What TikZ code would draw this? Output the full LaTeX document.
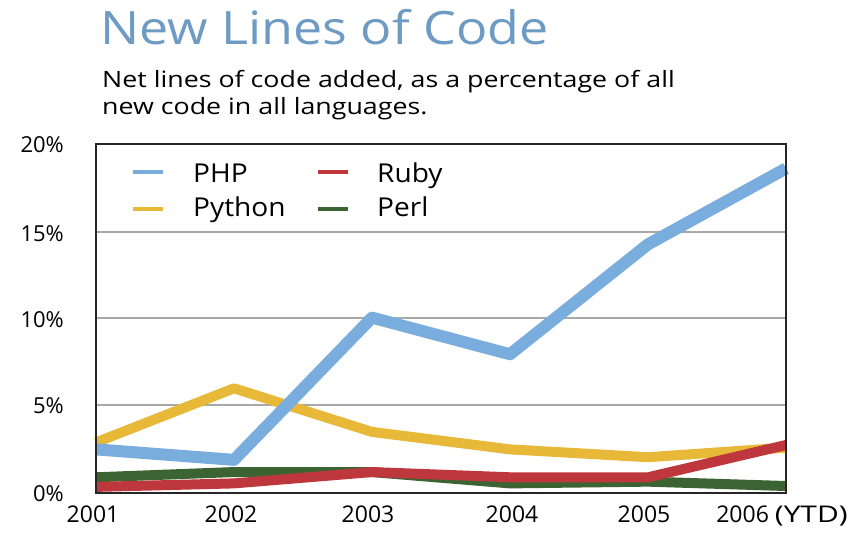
\documentclass[tikz,border=0pt]{standalone}
\usepackage{fontspec}
\setmainfont{Open Sans}
\newfontfamily\titlefont{Open Sans}[FakeStretch=1.13]
\newfontfamily\subfont{Open Sans}[FakeStretch=1.19]
\newfontfamily\legfont{Open Sans}[FakeStretch=1.08]
\newfontfamily\ytdfont{Open Sans}[FakeStretch=1.3]
\definecolor{phpc}{HTML}{78ADDE}
\definecolor{pyc}{HTML}{E8B838}
\definecolor{rbc}{HTML}{BE373C}
\definecolor{plc}{HTML}{3C6432}
\definecolor{titlec}{HTML}{6E9BC3}
\definecolor{gridc}{HTML}{A8A8A8}
\begin{document}
\begin{tikzpicture}[x=1pt,y=-1pt,
  series/.style={line width=10pt,line join=round,line cap=butt},
  legline/.style={line width=4pt},
  legtext/.style={anchor=base west,inner sep=0pt,font=\legfont\fontsize{26}{30}\selectfont},
  ylab/.style={anchor=base east,inner sep=0pt,font=\fontsize{22}{26}\selectfont},
  xlab/.style={anchor=base,inner sep=0pt,font=\fontsize{23}{27}\selectfont},
  gridline/.style={gridc,line width=1.2pt}]
\useasboundingbox[fill=white] (0,0) rectangle (855,537);
% title
\node[anchor=base west,inner sep=0pt,text=titlec,font=\titlefont\fontsize{46}{50}\selectfont] (title) at (100,45) {New Lines of Code};
\node[anchor=base west,inner sep=0pt,font=\subfont\fontsize{22.5}{26}\selectfont] (sub1) at (102,88) {Net lines of code added, as a percentage of all};
\node[anchor=base west,inner sep=0pt,font=\subfont\fontsize{22.5}{26}\selectfont] (sub2) at (102,115) {new code in all languages.};
% frame corners
\coordinate (bl) at (96,493);
\coordinate (tr) at (786,144);
% grid
\draw[gridline] (96,232) -- (786,232);
\draw[gridline] (96,318) -- (786,318);
\draw[gridline] (96,405) -- (786,405);
% y labels
\node[ylab] (y20) at (64,153) {20\%};
\node[ylab] (y15) at (64,242) {15\%};
\node[ylab] (y10) at (64,328) {10\%};
\node[ylab] (y5) at (64,414) {5\%};
\node[ylab] (y0) at (64,502) {0\%};
% x labels
\node[xlab] (x1) at (93,522) {2001};
\node[xlab] (x2) at (231,522) {2002};
\node[xlab] (x3) at (368,522) {2003};
\node[xlab] (x4) at (512,522) {2004};
\node[xlab] (x5) at (644,522) {2005};
\node[xlab] (x6) at (782,522) {2006 {\ytdfont(YTD)}};
% data
\begin{scope}[xshift=96pt,yshift=-493pt,x=138pt,y=17.45pt]
\draw[series,plc] (0,0.9) -- (1,1.2) -- (2,1.2) -- (3,0.55) -- (4,0.65) -- (5,0.4);
\draw[series,pyc] (0,2.9) -- (1,6.0) -- (2,3.5) -- (3,2.5) -- (4,2.05) -- (5,2.6);
\draw[series,phpc,line width=12pt] (0,2.5) -- (1,1.9) -- (2,10.05) -- (3,7.95) -- (4,14.25) -- (5,18.6);
\draw[series,rbc] (0,0.35) -- (1,0.55) -- (2,1.2) -- (3,0.9) -- (4,0.9) -- (5,2.75);
\end{scope}
% frame
\draw[black!85,line width=2pt] (bl) rectangle (tr);
% legend
\draw[legline,phpc] (133,172) -- (163,172);
\draw[legline,pyc] (133,209) -- (163,209);
\draw[legline,rbc] (318,172) -- (348,172);
\draw[legline,plc] (318,209) -- (348,209);
\node[legtext] (lphp) at (193,183) {PHP};
\node[legtext] (lpy) at (193,217) {Python};
\node[legtext] (lrb) at (377,183) {Ruby};
\node[legtext] (lpl) at (377,217) {Perl};
\end{tikzpicture}
\end{document}
